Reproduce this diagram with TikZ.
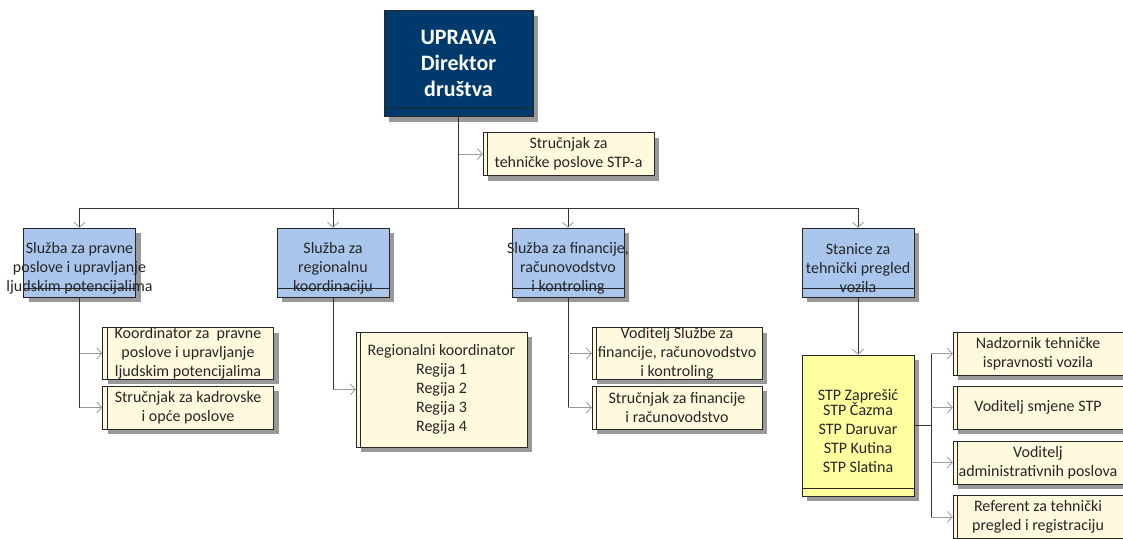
\documentclass[tikz,border=0pt]{standalone}
\usepackage{fontspec}
\setmainfont{Carlito}
\usetikzlibrary{arrows.meta,shadows}
\definecolor{upravaplava}{RGB}{0,58,108}
\definecolor{sluzbaplava}{RGB}{170,198,236}
\definecolor{krem}{RGB}{255,249,222}
\definecolor{stpzuta}{RGB}{255,255,160}
\newcommand{\preko}[1]{\makebox[0pt]{#1}}
\newcommand{\spusti}{\rule{0pt}{23pt}}

\begin{document}
\begin{tikzpicture}[x=1pt,y=-1pt,
    every node/.style={font=\fontsize{16}{19}\selectfont, align=center, text=black!85, inner sep=0pt},
    sjena/.style={drop shadow={shadow xshift=5pt,shadow yshift=-5pt,fill=black!40,opacity=1}},
    uprava/.style={draw=black!85, fill=upravaplava, sjena, minimum width=149pt, minimum height=106pt, text=white, font=\fontsize{22}{26}\selectfont\bfseries},
    sluzba/.style={draw=black!85, fill=sluzbaplava, sjena, minimum width=112pt, minimum height=69pt},
    radnik/.style={draw=black!85, fill=krem, sjena, minimum width=171pt, minimum height=43pt},
    stanica/.style={draw=black!85, fill=stpzuta, sjena, minimum width=112pt, minimum height=141pt},
    okvir/.style={black!85, line width=0.8pt},
    veza/.style={black!80, line width=0.8pt},
    dolje/.style={veza, -{Straight Barb[length=5pt,width=11pt,color=black!40]}},
    strelica/.style={black!40, line width=0.8pt, -{Straight Barb[length=5pt,width=11pt]}}
]
\useasboundingbox (0,0) rectangle (1123,538);

    \node[uprava] (dir) at (458.5,63.5) {UPRAVA\\Direktor\\društva};
    \node[radnik] (tech) at (568.5,154) {Stručnjak za\\tehničke poslove STP-a};

    \node[sluzba] (s1) at (79.5,262.5) {\spusti Služba za pravne\\\preko{poslove i upravljanje}\\\preko{ljudskim potencijalima}};
    \node[sluzba] (s2) at (333,262.5) {\spusti Služba za\\regionalnu\\koordinaciju};
    \node[sluzba] (s3) at (568,262.5) {\spusti\preko{Služba za financije,}\\računovodstvo\\i kontroling};
    \node[sluzba] (s4) at (858,262.5) {\spusti Stanice za\\tehnički pregled\\vozila};

    \node[radnik] (k1) at (188,353.5) {Koordinator za\ \ pravne\\poslove i upravljanje\\ljudskim potencijalima};
    \node[radnik] (k2) at (188,407.5) {Stručnjak za kadrovske\\i opće poslove};

    \node[radnik, minimum height=115pt] (r1) at (441.5,389.5) {Regionalni koordinator\\Regija 1\\Regija 2\\Regija 3\\Regija 4};

    \node[radnik, minimum width=170pt] (f1) at (677,353.5) {Voditelj Službe za\\financije, računovodstvo\\i kontroling};
    \node[radnik, minimum width=170pt] (f2) at (677,407.5) {Stručnjak za financije\\i računovodstvo};

    \node[stanica] (stp) at (858,425.5) {\spusti STP Zaprešić\\[-4pt]STP Čazma\\STP Daruvar\\STP Kutina\\STP Slatina};

    \node[radnik, minimum width=170pt] (n1) at (1038,353.5) {Nadzornik tehničke\\ispravnosti vozila};
    \node[radnik, minimum width=170pt] (n2) at (1038,407.5) {Voditelj smjene STP};
    \node[radnik, minimum width=170pt] (n3) at (1038,462.5) {Voditelj\\\preko{administrativnih poslova}};
    \node[radnik, minimum width=170pt] (n4) at (1038,517) {Referent za tehnički\\pregled i registraciju};

    \foreach \n in {dir,s1,s2,s3,s4}
        \draw[okvir] ([yshift=9pt]\n.south west) -- ([yshift=9pt]\n.south east);
    \draw[okvir] ([yshift=8pt]stp.south west) -- ([yshift=8pt]stp.south east);
    \foreach \n in {tech,k1,k2,r1,f1,f2,n1,n2,n3,n4}
        \draw[okvir] ([xshift=5pt]\n.north west) -- ([xshift=5pt]\n.south west);

    \coordinate (razdjel) at (458.5,208);
    \coordinate (grana) at (931,425.5);

    \draw[veza] (dir.south) -- (razdjel);
    \draw[strelica] (dir.south |- tech.west) -- (tech.west);
    \draw[veza] (razdjel -| s1.north) -- (razdjel -| s4.north);
    \foreach \n in {s1,s2,s3,s4}
        \draw[dolje] (razdjel -| \n.north) -- (\n.north);

    \draw[veza] (s1.south) -- (s1.south |- k2.west);
    \draw[strelica] (s1.south |- k1.west) -- (k1.west);
    \draw[strelica] (s1.south |- k2.west) -- (k2.west);

    \draw[veza] (s2.south) -- (s2.south |- r1.west);
    \draw[strelica] (s2.south |- r1.west) -- (r1.west);

    \draw[veza] (s3.south) -- (s3.south |- f2.west);
    \draw[strelica] (s3.south |- f1.west) -- (f1.west);
    \draw[strelica] (s3.south |- f2.west) -- (f2.west);

    \draw[dolje] (s4.south) -- (stp.north);
    \draw[veza] (stp.east) -- (grana);
    \draw[veza] (grana |- n1.west) -- (grana |- n4.west);
    \foreach \n in {n1,n2,n3,n4}
        \draw[strelica] (grana |- \n.west) -- (\n.west);
\end{tikzpicture}
\end{document}
